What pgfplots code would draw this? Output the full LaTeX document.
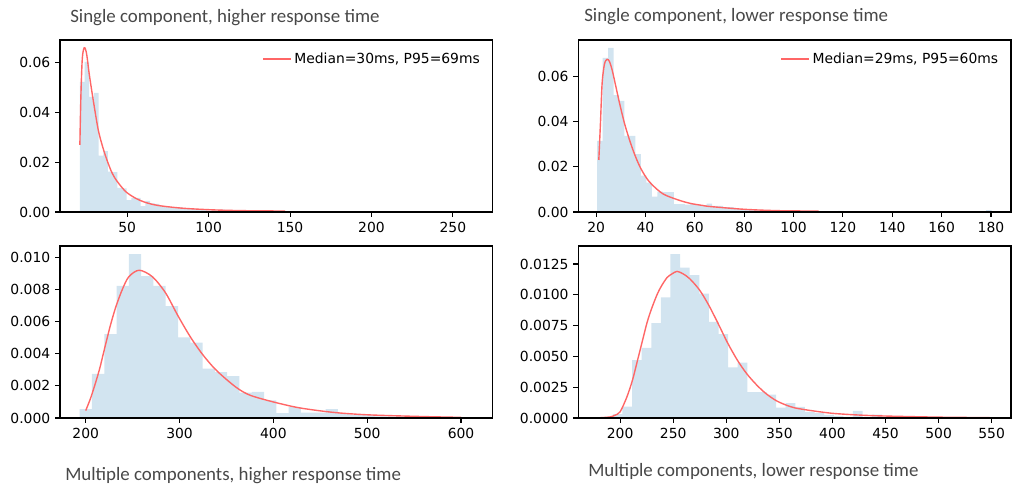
\documentclass[border=0pt]{standalone}
\usepackage{pgfplots}
\pgfplotsset{compat=1.18}
\usepackage{fontspec}
\setmainfont{DejaVu Sans}
\newfontfamily\titlefont{Carlito}
\definecolor{histblue}{RGB}{210,228,240}
\definecolor{fitred}{RGB}{255,102,102}
\definecolor{titlegray}{RGB}{72,72,72}
\pgfplotsset{
  panel/.style={
    scale only axis, width=311.5pt, height=123.84pt,
    anchor=south west, axis on top,
    axis line style={line width=0.8pt, black},
    tick align=outside, tick pos=left,
    major tick length=3.5pt,
    every tick/.style={black, line width=0.8pt},
    ymin=0,
    /pgf/number format/assume math mode=true,
    tick label style={font=\fontsize{10}{12}\selectfont, black},
    scaled y ticks=false, scaled x ticks=false,
    yticklabel style={/pgf/number format/fixed, /pgf/number format/fixed zerofill},
    xticklabel style={/pgf/number format/fixed},
    legend style={draw=none, fill=none, at={(1,1)}, anchor=north east, xshift=-4pt, yshift=-5pt,
      font=\fontsize{10}{12}\selectfont},
    legend image code/.code={\draw[fitred, line width=1pt] (0pt,0pt) -- (20pt,0pt);},
  },
  hist/.style={ybar interval, fill=histblue, draw=none, forget plot},
  fit/.style={color=fitred, line width=1pt, smooth, mark=none},
}
\tikzset{ttl/.style={anchor=west, inner sep=0pt, text=titlegray, font=\titlefont\fontsize{13.6}{16}\selectfont}}
\begin{document}
\begin{tikzpicture}[x=1pt,y=1pt]
\useasboundingbox (0,0) rectangle (739.44,351.36);
% ---------------- top left
\begin{axis}[panel, at={(43.2pt,198.72pt)},
  xmin=8.7, xmax=274.4, ymax=0.0690,
  xtick={50,100,150,200,250},
  ytick={0,0.02,0.04,0.06},
  yticklabel style={/pgf/number format/precision=2}]
\addplot[hist] coordinates {
(20.900,0.0522) (23.775,0.0602) (26.650,0.0462) (29.525,0.0478) (32.400,0.0226)
(35.275,0.0244) (38.150,0.0162) (41.025,0.0160) (43.900,0.0097) (46.775,0.0095)
(49.650,0.0048) (52.525,0.0057) (55.400,0.0057) (58.275,0.0024) (61.150,0.0045)
(64.025,0.0035) (66.900,0.0033) (69.775,0.0024) (72.650,0.0024) (75.525,0.0019)
(78.400,0.0019) (81.275,0.0019) (84.150,0.0013) (87.025,0.0013) (89.900,0.0012)
(92.775,0.0008) (95.650,0.0008) (98.525,0.0006) (101.400,0.0006) (104.275,0.0004)
(107.150,0.0010) (110.025,0.0004) (112.900,0.0004) (115.775,0.0002) (118.650,0.0002)
(121.525,0.0004) (124.400,0.0002) (127.275,0) (130.150,0.0003) (133.025,0.0002)
(135.900,0) (138.775,0.0002) (141.650,0) (147.400,0.0003) (150.275,0)
(153.150,0.0003) (156.025,0.0003) (158.900,0) (161.775,0.0002) (164.650,0.0003)
(167.525,0) (176.150,0.0003) (179.025,0) (181.900,0.0003) (184.775,0.0003)
(187.650,0) (248.025,0.0003) (250.900,0) (259.525,0.0003) (262.400,0)
};
\addplot[fit] coordinates {
(20.9,0.0269) (21.55,0.0469) (22.4,0.0616) (23.6,0.0659) (25.0,0.0636)
(26.6,0.0556) (29.1,0.0449) (32.2,0.0329) (35.2,0.0255) (37.9,0.0202)
(40.8,0.0155) (43.9,0.0122) (49.2,0.0081) (55.2,0.0055) (60.9,0.0039)
(69.1,0.0026) (84.4,0.0015) (104.9,0.0008) (125.4,0.0005) (146.9,0.0004)
};
\addlegendentry{Median=30ms, P95=69ms}
\end{axis}
% ---------------- top right
\begin{axis}[panel, at={(416.4pt,198.72pt)},
  xmin=12.8, xmax=188.1, ymax=0.07605,
  xtick={20,40,...,180},
  ytick={0,0.02,0.04,0.06},
  yticklabel style={/pgf/number format/precision=2}]
\addplot[hist] coordinates {
(20.40,0.0315) (22.62,0.0682) (24.84,0.0726) (27.06,0.0517) (29.28,0.0491)
(31.50,0.0337) (33.72,0.0337) (35.94,0.0256) (38.16,0.0161) (40.38,0.0130)
(42.60,0.0068) (44.82,0.0090) (47.04,0.0088) (49.26,0.0088) (51.48,0.0035)
(53.70,0.0035) (55.92,0.0033) (58.14,0.0036) (60.36,0.0030) (62.58,0.0030)
(64.80,0.0037) (67.02,0.0027) (69.24,0.0027) (71.46,0.0022) (73.68,0.0022)
(75.90,0.0013) (78.12,0.0013) (80.34,0.0009) (82.56,0.0009) (84.78,0.0007)
(87.00,0.0007) (89.22,0.0005) (91.44,0.0005) (93.66,0.0004) (95.88,0.0004)
(98.10,0.0004) (100.32,0.0002) (102.54,0.0002) (104.76,0.0002) (106.98,0.0002)
(109.20,0) (118.08,0.0005) (120.30,0) (129.18,0.0004) (131.40,0)
(158.04,0.0004) (160.26,0) (162.48,0.0004) (164.70,0) (178.02,0.0008) (180.24,0)
};
\addplot[fit] coordinates {
(21.1,0.0230) (21.76,0.0392) (22.44,0.0569) (23.39,0.0654) (24.47,0.0675)
(25.42,0.0665) (26.5,0.0628) (27.86,0.0562) (29.5,0.0481) (31.5,0.0392)
(33.56,0.0318) (35.7,0.0252) (37.76,0.0200) (40.07,0.0156) (42.37,0.0124)
(47.12,0.0080) (53.36,0.0053) (58.2,0.0038) (63.1,0.0029) (66.4,0.0024)
(80.0,0.0012) (93.5,0.0006) (110.2,0.0004)
};
\addlegendentry{Median=29ms, P95=60ms}
\end{axis}
% ---------------- bottom left
\begin{axis}[panel, at={(43.2pt,50.4pt)},
  xmin=172.6, xmax=633.7, ymax=0.01071,
  xtick={200,300,...,600},
  ytick={0,0.002,0.004,0.006,0.008,0.010},
  yticklabel style={/pgf/number format/precision=3}]
\addplot[hist] coordinates {
(193.6,0.00056) (206.7,0.00274) (219.8,0.00523) (232.9,0.00822) (246.0,0.0102)
(259.1,0.00884) (272.2,0.00822) (285.3,0.00697) (298.4,0.00502) (311.5,0.00469)
(324.6,0.00307) (337.7,0.00286) (350.8,0.00261) (363.9,0.00158) (377.0,0.00162)
(390.1,0.0011) (403.2,0.00031) (416.3,0.00068) (429.4,0.00033) (442.5,0.00033)
(455.6,0.00056) (468.7,0.0003) (481.8,0.00018) (494.9,0.00018) (508.0,0.0001)
(521.1,0.00008) (534.2,0.00008) (547.3,0.00004) (560.4,0.00004) (573.5,0.00004)
(586.6,0.00004) (599.7,0.00006) (612.8,0)
};
\addplot[fit] coordinates {
(200,0.00046) (205,0.0012) (210,0.0021) (215,0.0031) (220,0.0043)
(226,0.0057) (232,0.0069) (239,0.0080) (246,0.0088) (257,0.0092)
(271,0.0088) (285,0.0078) (298,0.0064) (311,0.0051) (324,0.0040)
(337,0.0031) (350,0.0024) (363,0.0018) (376,0.0014) (400,0.0010)
(428,0.00063) (464,0.00035) (500,0.0002) (553,0.0001) (600,0.00004)
};
\end{axis}
% ---------------- bottom right
\begin{axis}[panel, at={(416.4pt,50.4pt)},
  xmin=160.6, xmax=568.2, ymax=0.01396,
  xtick={200,250,...,550},
  ytick={0,0.0025,0.005,0.0075,0.01,0.0125},
  yticklabel style={/pgf/number format/precision=4}]
\addplot[hist] coordinates {
(193.10,0.00032) (202.15,0.00092) (211.20,0.0047) (220.25,0.0057) (229.30,0.0077)
(238.35,0.0098) (247.40,0.0133) (256.45,0.0122) (265.50,0.0116) (274.55,0.0101)
(283.60,0.0078) (292.65,0.0068) (301.70,0.0041) (310.75,0.0045) (319.80,0.0021)
(328.85,0.0021) (337.90,0.0019) (346.95,0.00084) (356.00,0.0012) (365.05,0.0009)
(374.10,0.0005) (383.15,0.0004) (392.20,0.00025) (401.25,0.00016) (410.30,0.0001)
(419.35,0.00057) (428.40,0) (437.45,0.00027) (446.50,0)
};
\addplot[fit] coordinates {
(178.6,0.00001) (190,0.00008) (195,0.00022) (200,0.00051) (206.3,0.0017)
(211.7,0.0031) (216.4,0.0047) (221.1,0.0063) (225.2,0.0077) (229.3,0.0088)
(234.7,0.0100) (238.8,0.0107) (244.2,0.0114) (248.9,0.0117) (253.6,0.0119)
(259.3,0.0117) (265.6,0.0113) (274.7,0.0104) (283.2,0.0092) (292.1,0.0077)
(301.2,0.0061) (310.4,0.0047) (319.2,0.0036) (328.4,0.0027) (337.1,0.0020)
(346.6,0.00143) (355.4,0.00108) (364.6,0.00082) (380,0.0006) (400,0.00038)
(425,0.00024) (450,0.00016) (500,0.00007) (548,0.00003)
};
\end{axis}
% ---------------- titles
\node[ttl] at (50.4,338.4) {Single component, higher response time};
\node[ttl] at (420.5,339.2) {Single component, lower response time};
\node[ttl] at (46.8,9.3) {Multiple components, higher response time};
\node[ttl] at (423.4,11.7) {Multiple components, lower response time};
\end{tikzpicture}
\end{document}
